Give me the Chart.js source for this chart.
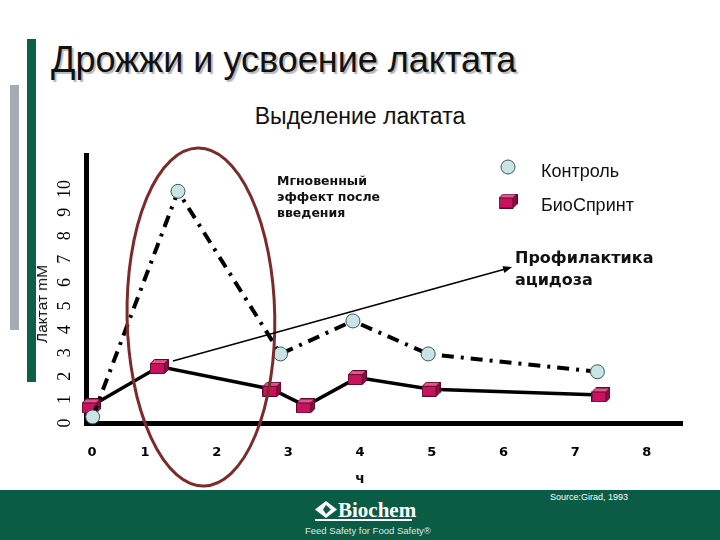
<!DOCTYPE html>
<html><head><meta charset="utf-8">
<script src="https://cdn.jsdelivr.net/npm/chart.js@4"></script>
<style>
html,body{margin:0;padding:0;background:#fff;}
#wrap{position:relative;width:720px;height:540px;overflow:hidden;background:#fff;font-family:'Liberation Sans',Arial,sans-serif;color:#111;}
.abs{position:absolute;white-space:nowrap;}
#graybar{left:10px;top:85px;width:9px;height:245px;background:#a2acb1;}
#greenbar{left:27px;top:39px;width:9px;height:343px;background:#0d5f48;}
#title{left:51px;top:42px;font-size:36px;line-height:36px;text-shadow:2px 2px 1px #b8b8b8;}
#subtitle{left:0;width:720px;text-align:center;top:103px;font-size:23px;line-height:26px;}
#ytitle{left:42px;top:304px;font-size:15.5px;line-height:16px;transform:translate(-50%,-50%) rotate(-90deg);}
#xtitle{left:360px;top:478px;transform:translate(-50%,-50%);font-family:'DejaVu Sans',sans-serif;font-weight:bold;font-size:14px;}
#note1{left:277px;top:173px;font-family:'DejaVu Sans',sans-serif;font-weight:bold;font-size:12.5px;line-height:16px;}
#note2{left:515px;top:247px;font-family:'DejaVu Sans',sans-serif;font-weight:bold;font-size:16px;line-height:22px;}
#footer{left:0;top:490px;width:720px;height:50px;background:#0b5c45;}
#logo{left:338px;top:498px;font-family:'Liberation Serif',serif;font-weight:bold;font-size:21px;color:#fff;}
#uline{left:315px;top:519px;width:97px;height:2px;background:#fff;}
#slogan{left:305px;top:525px;font-size:9.5px;color:#dfe9e4;}
#source{left:550px;top:492px;font-size:9px;color:#fff;}
#icon{left:315px;top:501px;}
canvas{position:absolute;left:0;top:0;z-index:2;}
.txt{z-index:3;}
</style>
</head>
<body>
<div id="wrap">
  <div class="abs" id="graybar"></div>
  <div class="abs" id="greenbar"></div>
  <div class="abs" id="title">Дрожжи и усвоение лактата</div>
  <div class="abs" id="subtitle">Выделение лактата</div>
  <div class="abs" id="footer"></div>
  <svg class="abs" id="icon" width="22" height="17" viewBox="0 0 22 17">
    <polygon points="11,0 22,8.5 11,17 0,8.5" fill="#fff"/>
    <polygon points="11,4 16,8.5 11,13 8,8.5" fill="#0b5c45"/>
  </svg>
  <div class="abs" id="logo">Biochem</div>
  <div class="abs" id="uline"></div>
  <div class="abs" id="slogan">Feed Safety for Food Safety®</div>
  <div class="abs" id="source">Source:Girad, 1993</div>
  <canvas id="c" width="720" height="540"></canvas>
  <div class="abs txt" id="ytitle">Лактат mM</div>
  <div class="abs txt" id="xtitle">ч</div>
  <div class="abs txt" id="note1">Мгновенный<br>эффект после<br>введения</div>
  <div class="abs txt" id="note2">Профилактика<br>ацидоза</div>
</div>
<script>
// ---- data ----
const seriesNames = ['Контроль', 'БиоСпринт'];
const controlX = [0.27, 1.46, 2.89, 3.90, 4.95, 7.31];
const controlY = [0.26, 9.9, 2.95, 4.36, 2.95, 2.19];
const bioX = [0.25, 1.20, 2.77, 3.24, 3.96, 4.99, 7.36];
const bioY = [0.73, 2.41, 1.44, 0.73, 1.94, 1.44, 1.20];
const xTickValues = [0.26, 1, 2, 3, 4, 5, 6, 7, 8];
const xTickLabels = ['0', '1', '2', '3', '4', '5', '6', '7', '8'];
const yTickValues = [0, 1, 2, 3, 4, 5, 6, 7, 8, 9, 10];
// annotation shapes in data units
const highlightEllipse = {x: 1.78, y: 4.53, rx: 1.03, ry: 7.22};
const arrowFrom = {x: 1.39, y: 2.65};
const arrowTo = {x: 6.12, y: 6.66};

// 3D box marker
function makeBox() {
  const c = document.createElement('canvas');
  c.width = 19; c.height = 15;
  const g = c.getContext('2d');
  const d = 4, w = 14, h = 10;
  g.lineWidth = 1;
  g.strokeStyle = '#5c0a2c';
  g.lineJoin = 'round';
  g.fillStyle = '#e2548c';
  g.beginPath(); g.moveTo(0.5, d + 0.5); g.lineTo(d + 0.5, 0.5); g.lineTo(w + d + 0.5, 0.5); g.lineTo(w + 0.5, d + 0.5); g.closePath(); g.fill(); g.stroke();
  g.fillStyle = '#8e0b44';
  g.beginPath(); g.moveTo(w + 0.5, d + 0.5); g.lineTo(w + d + 0.5, 0.5); g.lineTo(w + d + 0.5, h + 0.5); g.lineTo(w + 0.5, h + d + 0.5); g.closePath(); g.fill(); g.stroke();
  g.fillStyle = '#c8125e';
  g.fillRect(0.5, d + 0.5, w, h); g.strokeRect(0.5, d + 0.5, w, h);
  return c;
}
const boxImg = makeBox();

const ctlColor = '#c9e4e4';
const ctlBorder = '#3b5858';

const annotPlugin = {
  id: 'annot',
  afterDatasetsDraw(chart) {
    const {ctx, scales: {x, y}} = chart;
    ctx.save();
    const cx = x.getPixelForValue(highlightEllipse.x);
    const cy = y.getPixelForValue(highlightEllipse.y);
    const rx = Math.abs(x.getPixelForValue(highlightEllipse.x + highlightEllipse.rx) - cx);
    const ry = Math.abs(y.getPixelForValue(highlightEllipse.y + highlightEllipse.ry) - cy);
    ctx.beginPath();
    ctx.ellipse(cx, cy, rx, ry, -0.018, 0, Math.PI * 2);
    ctx.strokeStyle = '#7e2a2a';
    ctx.lineWidth = 3;
    ctx.stroke();
    const x1 = x.getPixelForValue(arrowFrom.x), y1 = y.getPixelForValue(arrowFrom.y);
    const x2 = x.getPixelForValue(arrowTo.x), y2 = y.getPixelForValue(arrowTo.y);
    const ang = Math.atan2(y2 - y1, x2 - x1);
    ctx.strokeStyle = '#000'; ctx.fillStyle = '#000';
    ctx.lineWidth = 1.5;
    ctx.beginPath(); ctx.moveTo(x1, y1); ctx.lineTo(x2 - 6 * Math.cos(ang), y2 - 6 * Math.sin(ang)); ctx.stroke();
    ctx.beginPath();
    ctx.moveTo(x2, y2);
    ctx.lineTo(x2 - 9 * Math.cos(ang) + 3.5 * Math.sin(ang), y2 - 9 * Math.sin(ang) - 3.5 * Math.cos(ang));
    ctx.lineTo(x2 - 9 * Math.cos(ang) - 3.5 * Math.sin(ang), y2 - 9 * Math.sin(ang) + 3.5 * Math.cos(ang));
    ctx.closePath(); ctx.fill();
    ctx.restore();
  },
  afterDraw(chart) {
    const {ctx} = chart;
    ctx.save();
    chart.data.datasets.forEach((ds, i) => {
      const my = 167 + i * 34;
      const mx = 508;
      if (ds.pointStyle === 'circle') {
        ctx.beginPath(); ctx.arc(mx, my, 7, 0, Math.PI * 2);
        ctx.fillStyle = ds.pointBackgroundColor; ctx.fill();
        ctx.lineWidth = 1; ctx.strokeStyle = ds.pointBorderColor; ctx.stroke();
      } else {
        ctx.drawImage(ds.pointStyle, mx - boxImg.width / 2, my - boxImg.height / 2);
      }
      ctx.fillStyle = '#111';
      ctx.font = '18px "Liberation Sans", Arial, sans-serif';
      ctx.textBaseline = 'middle';
      ctx.textAlign = 'left';
      ctx.fillText(ds.label, 541, my + 5);
    });
    ctx.restore();
  }
};

new Chart(document.getElementById('c'), {
  type: 'line',
  data: {
    datasets: [
      {
        label: seriesNames[0],
        data: controlX.map((v, i) => ({x: v, y: controlY[i]})),
        borderColor: '#000', borderWidth: 4, borderDash: [12, 7, 3, 7],
        pointStyle: 'circle', pointRadius: 7, pointBackgroundColor: ctlColor,
        pointBorderColor: ctlBorder, pointBorderWidth: 1,
        tension: 0, fill: false, clip: false
      },
      {
        label: seriesNames[1],
        data: bioX.map((v, i) => ({x: v, y: bioY[i]})),
        borderColor: '#000', borderWidth: 3.5,
        pointStyle: boxImg, pointRadius: 8,
        tension: 0, fill: false, clip: false
      }
    ]
  },
  options: {
    responsive: false, animation: false, devicePixelRatio: 1,
    layout: {padding: {top: 155, right: 38, bottom: 50, left: 0}},
    plugins: {legend: {display: false}, tooltip: {enabled: false}},
    scales: {
      x: {
        type: 'linear', min: 0.177, max: 8.49,
        afterFit(s) { s.height = 67; },
        afterBuildTicks(s) { s.ticks = xTickValues.map(v => ({value: v})); },
        grid: {display: false, drawTicks: false},
        border: {display: true, color: '#000', width: 5},
        ticks: {
          padding: 22, color: '#000', autoSkip: false, maxRotation: 0,
          font: {family: 'DejaVu Sans', weight: 'bold', size: 13},
          callback: (v, i) => xTickLabels[i]
        }
      },
      y: {
        type: 'linear', min: 0, max: 11.45,
        afterFit(s) { s.width = 86; },
        afterBuildTicks(s) { s.ticks = yTickValues.map(v => ({value: v})); },
        grid: {display: false, drawTicks: false},
        border: {display: true, color: '#000', width: 5},
        ticks: {
          padding: 12, color: '#000', minRotation: 90, maxRotation: 90, crossAlign: 'center',
          font: {family: 'Liberation Serif', size: 18},
          callback: (v) => String(v)
        }
      }
    }
  },
  plugins: [annotPlugin]
});
</script>
</body></html>
